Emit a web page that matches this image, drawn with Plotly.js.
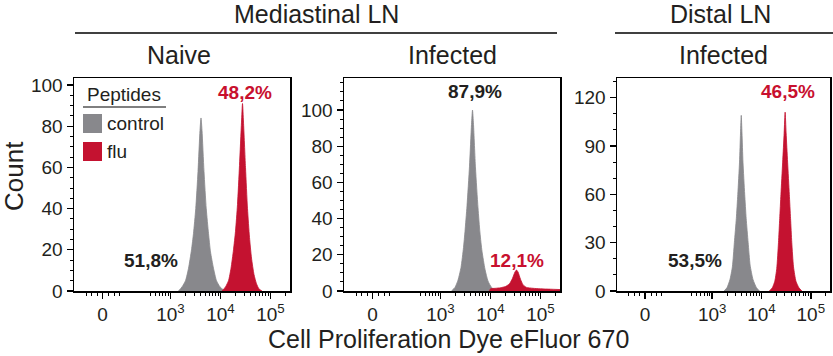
<!DOCTYPE html>
<html>
<head>
<meta charset="utf-8">
<script src="https://cdn.plot.ly/plotly-3.0.1.min.js"></script>
<style>
html,body{margin:0;padding:0;background:#fff;}
#chart{width:833px;height:356px;}
</style>
</head>
<body>
<div id="chart"></div>
<script>
// ---- Data (x = position on biexponential display, in decades; y = Count) ----
var xTickVals = [1.64, 3, 4, 5];
var xTickText = ['0', '10<sup>3</sup>', '10<sup>4</sup>', '10<sup>5</sup>'];
var seriesNames = ['control', 'flu'];

// Panel 1: Mediastinal LN, Naive
var naiveControlX = [3.16,3.23,3.30,3.36,3.42,3.46,3.505,3.55,3.59,3.61,3.63,3.67,3.715,3.76,3.80,3.86,3.92,3.99,4.06];
var naiveControlY = [0,2,5,11,20,28,40,58,78,84,78,58,40,28,19,11,5,2,0.5];
var naiveFluX = [4.03,4.10,4.16,4.21,4.26,4.30,4.34,4.38,4.42,4.44,4.46,4.50,4.54,4.58,4.62,4.67,4.72,4.77,4.83];
var naiveFluY = [0,2,5,11,20,29,42,61,82,91,82,60,40,26,16,8,3.5,1,0];

// Panel 2: Mediastinal LN, Infected
var medInfControlX = [3.22,3.29,3.35,3.41,3.46,3.49,3.53,3.58,3.62,3.64,3.66,3.70,3.75,3.79,3.83,3.89,3.95,4.02,4.09];
var medInfControlY = [0,2,6,13,24,33,47,69,92,100,92,68,46,32,22,12,5.5,2,0.5];
var medInfFluX = [3.98,4.00,4.10,4.20,4.30,4.38,4.44,4.49,4.52,4.55,4.60,4.65,4.72,4.85,5.00,5.20,5.39];
var medInfFluY = [0,1.2,1.5,1.8,2.5,4,7,10.5,11.6,10.5,6.5,3.5,2,1.5,1.2,1,0.8];

// Panel 3: Distal LN, Infected
var distInfControlX = [3.24,3.30,3.36,3.41,3.45,3.49,3.52,3.555,3.575,3.59,3.605,3.625,3.66,3.69,3.73,3.77,3.83,3.90,3.96];
var distInfControlY = [0,2,7,15,30,45,60,80,98,109,98,80,60,45,30,16,7,2,0];
var distInfFluX = [4.16,4.22,4.27,4.31,4.345,4.37,4.395,4.43,4.46,4.48,4.50,4.53,4.565,4.59,4.615,4.65,4.70,4.76,4.82];
var distInfFluY = [0,2,6,14,30,45,60,80,98,111,98,80,60,45,30,15,6,2,0];

// Gate percentages [text, x, y]
var pctLabels = [
  ['51,8%', 2.61, 15, 'grey', 1], ['48,2%', 4.49, 96.6, 'red', 1],
  ['87,9%', 3.69, 110.5, 'grey', 2], ['12,1%', 4.53, 17.1, 'red', 2],
  ['53,5%', 2.65, 19.2, 'grey', 3], ['46,5%', 4.53, 124, 'red', 3]
];
var yRanges = [[0, 103.4], [0, 117.7], [0, 132.2]];
var yTickVals = [[0,20,40,60,80,100], [0,20,40,60,80,100], [0,30,60,90,120]];
var yMinorDtick = [5, 5, 10];

// ---- Styling ----
var GREY = '#88888c', RED = '#c41230', TXT = '#231f20', REDTXT = '#c8102e';
var FONT = 'Liberation Sans, Arial, Helvetica, sans-serif';
var W = 833, H = 356;
function px(x){ return x / W; }
function py(y){ return 1 - y / H; }

var panelPx = [[74, 290], [344, 560], [617, 830]];
var yDom = [py(291), py(78)];

var minorX = [1.31,1.42,1.53,1.76,1.87,1.98,2.59,2.69,2.77,2.84,2.90,2.95];
[3,4].forEach(function(d){ for (var k=2;k<=9;k++) minorX.push(d + Math.log10(k)); });
minorX.push(5 + Math.log10(2));

var curves = [
  [naiveControlX, naiveControlY, naiveFluX, naiveFluY],
  [medInfControlX, medInfControlY, medInfFluX, medInfFluY],
  [distInfControlX, distInfControlY, distInfFluX, distInfFluY]
];

var data = [];
var layout = {
  width: W, height: H,
  margin: {l:0, r:0, t:0, b:0},
  paper_bgcolor: '#fff', plot_bgcolor: '#fff',
  showlegend: false,
  font: {family: FONT, color: TXT, size: 19},
  annotations: [], shapes: []
};

curves.forEach(function(c, i){
  var s = i === 0 ? '' : String(i + 1);
  data.push({x: c[0], y: c[1], type: 'scatter', mode: 'lines', name: seriesNames[0],
    fill: 'tozeroy', fillcolor: GREY, line: {color: GREY, width: 0.8, shape: 'spline', smoothing: 0.6},
    xaxis: 'x' + s, yaxis: 'y' + s, hoverinfo: 'skip'});
  data.push({x: c[2], y: c[3], type: 'scatter', mode: 'lines', name: seriesNames[1],
    fill: 'tozeroy', fillcolor: RED, line: {color: RED, width: 0.8, shape: 'spline', smoothing: 0.6},
    xaxis: 'x' + s, yaxis: 'y' + s, hoverinfo: 'skip'});
  layout['xaxis' + s] = {
    domain: [px(panelPx[i][0]), px(panelPx[i][1])], range: [1.07, 5.39], anchor: 'y' + s,
    tickmode: 'array', tickvals: xTickVals, ticktext: xTickText,
    ticks: 'outside', ticklen: 6, tickwidth: 1.5, tickcolor: '#000',
    showline: true, linecolor: '#000', linewidth: 1.5, mirror: true,
    showgrid: false, zeroline: false,
    tickfont: {size: 19, color: TXT, family: FONT},
    minor: {tickmode: 'array', tickvals: minorX, ticks: 'outside', ticklen: 3.5, tickwidth: 1, tickcolor: '#000', showgrid: false}
  };
  layout['yaxis' + s] = {
    domain: yDom, range: yRanges[i], anchor: 'x' + s,
    tickmode: 'array', tickvals: yTickVals[i],
    ticks: 'outside', ticklen: 6, tickwidth: 1.2, tickcolor: '#000',
    showline: true, linecolor: '#000', linewidth: 1.5, mirror: true,
    showgrid: false, zeroline: false,
    tickfont: {size: 19, color: TXT, family: FONT},
    minor: {dtick: yMinorDtick[i], tick0: 0, ticks: 'outside', ticklen: 3, tickwidth: 1, tickcolor: '#000', showgrid: false}
  };
});

pctLabels.forEach(function(p){
  var s = p[4] === 1 ? '' : String(p[4]);
  layout.annotations.push({text: '<b>' + p[0] + '</b>', x: p[1], y: p[2], xref: 'x' + s, yref: 'y' + s,
    showarrow: false, borderpad: 0, font: {size: 19, color: p[3] === 'red' ? REDTXT : TXT, family: FONT}});
});

function ann(text, x, y, size, extra){
  var a = {text: text, x: px(x), y: py(y), xref: 'paper', yref: 'paper', showarrow: false, borderpad: 0,
    xanchor: 'center', yanchor: 'middle', font: {size: size, color: TXT, family: FONT}};
  if (extra) for (var k in extra) a[k] = extra[k];
  layout.annotations.push(a);
}
ann('Mediastinal LN', 316, 14, 25);
ann('Distal LN', 720, 14, 25);
ann('Naive', 179, 55, 25);
ann('Infected', 452, 55, 25);
ann('Infected', 723, 55, 25);
ann('Count', 14, 176, 26, {textangle: -90});
ann('Cell Proliferation Dye eFluor 670', 448, 339, 25);
// legend
ann('Peptides', 124, 95, 19);
ann('control', 106, 123, 19, {xanchor: 'left'});
ann('flu', 106, 151, 19, {xanchor: 'left'});

function line(x0, y0, x1, y1, w){
  layout.shapes.push({type: 'line', xref: 'paper', yref: 'paper', x0: px(x0), y0: py(y0), x1: px(x1), y1: py(y1),
    line: {color: '#000', width: w}});
}
function rect(x0, y0, x1, y1, col){
  layout.shapes.push({type: 'rect', xref: 'paper', yref: 'paper', x0: px(x0), y0: py(y0), x1: px(x1), y1: py(y1),
    fillcolor: col, line: {width: 0}});
}
line(75, 33, 557, 33, 1.5);
line(615, 33, 833, 33, 1.5);
line(83, 107, 166, 107, 1.2);
rect(83, 114, 102, 133, GREY);
rect(83, 142, 102, 161, RED);

Plotly.newPlot('chart', data, layout, {staticPlot: true, displayModeBar: false});
</script>
</body>
</html>
